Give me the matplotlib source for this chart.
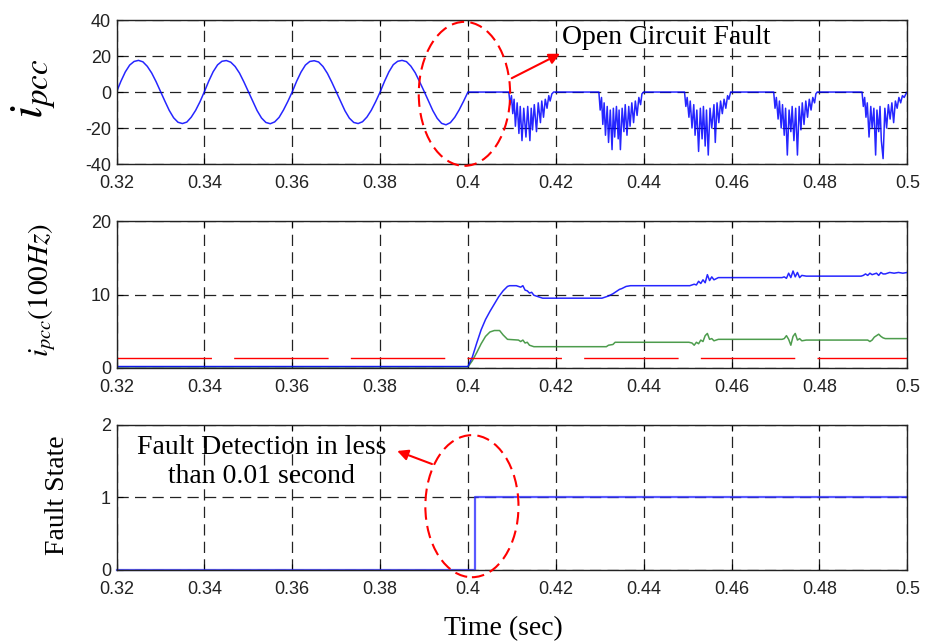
import numpy as np
import matplotlib
matplotlib.use('Agg')
from matplotlib import pyplot as plt
from matplotlib.patches import Ellipse
from matplotlib.ticker import FuncFormatter

plt.rcParams['font.family'] = ['Liberation Sans', 'DejaVu Sans']
plt.rcParams['mathtext.fontset'] = 'stix'
plt.rcParams['axes.unicode_minus'] = False

# --- i_pcc before the fault: one sample per ms, 0.320 .. 0.400 s
sine_t = np.round(np.arange(0.320, 0.4005, 0.001), 3)
sine_v = [0.0, 6.0, 11.2, 15.0, 17.0, 17.6, 16.8, 14.3, 10.6, 5.8,
          0.4, -5.0, -10.2, -14.3, -16.8, -17.5, -16.7, -14.0, -10.2, -5.4,
          0.2, 6.1, 11.3, 15.1, 17.1, 17.5, 16.6, 14.2, 10.5, 5.6,
          0.3, -5.1, -10.3, -14.4, -16.9, -17.6, -16.6, -14.1, -10.0, -5.2,
          0.1, 6.0, 11.1, 15.0, 17.0, 17.4, 16.7, 14.2, 10.4, 5.5,
          0.2, -5.2, -10.4, -14.5, -16.9, -17.5, -16.5, -13.9, -10.1, -5.3,
          0.0, 5.9, 11.2, 15.2, 17.1, 17.6, 16.9, 14.4, 10.7, 5.7,
          0.5, -4.9, -10.3, -14.6, -17.4, -18.2, -17.0, -14.0, -9.9, -5.1, 0.0]

# --- i_pcc after the open circuit fault (chopped negative bursts)
b1_t = [0.4093, 0.4096, 0.4099, 0.4102, 0.4105, 0.4108, 0.4112, 0.4116, 0.4119, 0.4123,
        0.4127, 0.4132, 0.4136, 0.4141, 0.4144, 0.4147, 0.4151, 0.4156, 0.4160, 0.4165,
        0.4168, 0.4172, 0.4176, 0.4180, 0.4184, 0.4187, 0.4191, 0.4195]
b1_v = [0, -7, -2, -12, -4, -19, -6, -23, -8, -27, -9, -25, -8, -27, -9, -21, -7, -22, -6, -17,
        -5, -14, -4, -9, -2, -5, -1, 0]
b2_t = [0.4298, 0.4301, 0.4304, 0.4307, 0.4310, 0.4313, 0.4317, 0.4320, 0.4324, 0.4328,
        0.4331, 0.4334, 0.4338, 0.4342, 0.4344, 0.4347, 0.4351, 0.4355, 0.4358, 0.4362,
        0.4366, 0.4369, 0.4373, 0.4377, 0.4381, 0.4385, 0.4389, 0.4393, 0.4396, 0.4400]
b2_v = [0, -10, -3, -18, -6, -24, -8, -28, -10, -32, -9, -25, -8, -26, -10, -32, -9, -22, -7, -24,
        -8, -19, -6, -17, -5, -13, -3, -7, -1, 0]
b3_t = [0.4493, 0.4496, 0.4499, 0.4503, 0.4506, 0.4510, 0.4514, 0.4517, 0.4521, 0.4525,
        0.4529, 0.4533, 0.4536, 0.4540, 0.4543, 0.4547, 0.4551, 0.4555, 0.4560, 0.4563,
        0.4567, 0.4571, 0.4575, 0.4579, 0.4583, 0.4587, 0.4591, 0.4594, 0.4598]
b3_v = [0, -8, -3, -14, -5, -20, -7, -24, -10, -33, -9, -26, -8, -30, -10, -35, -9, -20, -7, -28,
        -6, -17, -5, -12, -4, -9, -2, -4, 0]
b4_t = [0.4696, 0.4699, 0.4702, 0.4706, 0.4709, 0.4713, 0.4716, 0.4720, 0.4723, 0.4727,
        0.4731, 0.4735, 0.4738, 0.4742, 0.4746, 0.4750, 0.4754, 0.4758, 0.4761, 0.4765,
        0.4769, 0.4773, 0.4777, 0.4781, 0.4785, 0.4789, 0.4792, 0.4795]
b4_v = [0, -9, -3, -15, -5, -20, -7, -24, -9, -35, -10, -22, -8, -27, -9, -35, -8, -21, -6, -18,
        -5, -14, -4, -10, -3, -6, -1, 0]
b5_t = [0.4897, 0.4900, 0.4903, 0.4906, 0.4909, 0.4913, 0.4917, 0.4920, 0.4924, 0.4928,
        0.4931, 0.4935, 0.4938, 0.4941, 0.4945, 0.4949, 0.4953, 0.4957, 0.4961, 0.4965,
        0.4969, 0.4973, 0.4977, 0.4981, 0.4985, 0.4989, 0.4993, 0.4997, 0.5000]
b5_v = [0, -8, -3, -14, -6, -25, -8, -20, -9, -35, -10, -22, -8, -27, -37, -9, -20, -7, -15, -6,
        -17, -5, -9, -3, -6, -2, -3, -1, 0]

# --- 100 Hz component of i_pcc
blue_t = [0.320, 0.400, 0.401, 0.402, 0.403, 0.404, 0.405, 0.406, 0.407, 0.408,
          0.409, 0.4095, 0.411, 0.412, 0.4125, 0.413, 0.4135, 0.414, 0.4145, 0.415,
          0.416, 0.417, 0.418, 0.4305, 0.432, 0.433, 0.434, 0.4345, 0.435, 0.436,
          0.437, 0.4505, 0.4515, 0.452, 0.4525, 0.453, 0.4535, 0.454, 0.4545, 0.455,
          0.4555, 0.456, 0.457, 0.4715, 0.472, 0.4725, 0.473, 0.4735, 0.474, 0.4745,
          0.475, 0.4755, 0.476, 0.477, 0.4775, 0.4895, 0.490, 0.4905, 0.491, 0.4915,
          0.492, 0.4925, 0.493, 0.4935, 0.494, 0.4945, 0.495, 0.496, 0.497, 0.498,
          0.499, 0.500]
blue_v = [0.2, 0.2, 1.5, 3.4, 5.2, 6.6, 7.7, 8.7, 9.7, 10.5,
          11.1, 11.2, 11.2, 11.0, 11.2, 10.6, 10.5, 10.2, 10.3, 9.9,
          9.7, 9.5, 9.5, 9.5, 9.8, 10.1, 10.5, 10.7, 10.8, 11.1,
          11.2, 11.2, 11.4, 11.3, 11.8, 11.5, 12.0, 11.6, 12.7, 11.9,
          12.4, 12.0, 12.3, 12.3, 12.4, 12.2, 12.9, 12.3, 13.2, 12.4,
          13.0, 12.3, 12.6, 12.5, 12.5, 12.5, 12.6, 12.8, 12.6, 12.9,
          12.7, 12.8, 12.9, 12.6, 13.0, 12.8, 12.8, 13.0, 12.9, 13.0,
          12.9, 13.0]
green_t = [0.320, 0.400, 0.401, 0.402, 0.403, 0.404, 0.405, 0.406, 0.4072, 0.408,
           0.409, 0.4115, 0.412, 0.4125, 0.413, 0.4135, 0.414, 0.415, 0.4315, 0.432,
           0.433, 0.4335, 0.4503, 0.451, 0.4515, 0.452, 0.4525, 0.453, 0.4535, 0.454,
           0.4545, 0.455, 0.4555, 0.456, 0.457, 0.4715, 0.472, 0.4725, 0.473, 0.4735,
           0.474, 0.4745, 0.475, 0.4755, 0.476, 0.477, 0.491, 0.4915, 0.492, 0.4925,
           0.493, 0.4935, 0.494, 0.4945, 0.495, 0.500]
green_v = [0.15, 0.15, 1.0, 2.1, 3.3, 4.3, 4.9, 5.1, 5.1, 4.5,
           3.9, 3.8, 3.6, 3.8, 3.4, 3.5, 3.1, 2.9, 2.9, 3.1,
           3.2, 3.5, 3.5, 3.4, 3.1, 3.5, 3.3, 3.8, 3.6, 4.4,
           4.7, 3.9, 4.0, 3.7, 3.9, 3.9, 4.0, 4.4, 3.9, 3.1,
           4.3, 4.7, 3.8, 4.0, 3.7, 3.8, 3.8, 3.6, 3.8, 4.2,
           4.4, 4.6, 4.3, 4.1, 4.0, 4.0]
threshold = 1.3

# --- fault flag
fault_t = [0.32, 0.4016, 0.5]
fault_state = [0, 1, 1]

x_ticks = [0.32, 0.34, 0.36, 0.38, 0.40, 0.42, 0.44, 0.46, 0.48, 0.50]

serif = ['Liberation Serif', 'DejaVu Serif']
grid_ls = (0, (9, 5))

fig = plt.figure(figsize=(9.27, 6.41), dpi=100)
ax1 = fig.add_axes([0.1257, 0.7441, 0.853, 0.2246])
ax2 = fig.add_axes([0.1257, 0.4259, 0.853, 0.2293])
ax3 = fig.add_axes([0.1257, 0.1108, 0.853, 0.2262])

for ax in (ax1, ax2, ax3):
    ax.set_xlim(0.32, 0.5)
    ax.set_xticks(x_ticks)
    ax.xaxis.set_major_formatter(FuncFormatter(lambda v, p: '%g' % round(v, 2)))
    ax.grid(True, color='#222222', linestyle=grid_ls, linewidth=0.9)
    ax.tick_params(direction='in', length=4, top=True, right=True,
                   labelsize=13, labelcolor='#222222')
    ax.tick_params(axis='x', pad=8)
    ax.tick_params(axis='y', pad=4)
    for s in ax.spines.values():
        s.set_linewidth(1.0)
        s.set_color('#222222')

# top panel
top_t = np.concatenate([sine_t, b1_t, b2_t, b3_t, b4_t, b5_t])
top_v = np.concatenate([sine_v, b1_v, b2_v, b3_v, b4_v, b5_v])
ax1.plot(top_t, top_v, color='#0000ff', lw=1.1, alpha=0.85)
ax1.set_ylim(-40, 40)
ax1.set_yticks([-40, -20, 0, 20, 40])
ax1.add_patch(Ellipse((0.3992, -1), 0.0208, 80, fill=False, edgecolor='red',
                      linestyle=(0, (6, 3)), lw=1.5, clip_on=False, zorder=5))
ax1.annotate('', xy=(0.4215, 22), xytext=(0.4094, 7),
             arrowprops=dict(arrowstyle='-|>', color='red', lw=1.5, mutation_scale=16),
             zorder=6)
ax1.text(0.4215, 30.5, 'Open Circuit Fault', family=serif, fontsize=20,
         ha='left', va='center')

# middle panel
ax2.plot(green_t, green_v, color='#2e8b2e', lw=1.1, alpha=0.85)
ax2.plot(blue_t, blue_v, color='#0000ff', lw=1.1, alpha=0.85)
ax2.plot([0.32, 0.5], [threshold, threshold], color='red', lw=1.0,
         linestyle=(0, (68, 16)))
ax2.set_ylim(0, 20)
ax2.set_yticks([0, 10, 20])

# bottom panel
ax3.plot(fault_t, fault_state, color='#3030ff', lw=1.6, alpha=0.8,
         drawstyle='steps-post', clip_on=False)
ax3.set_ylim(0, 2)
ax3.set_yticks([0, 1, 2])
ax3.add_patch(Ellipse((0.4009, 0.88), 0.0212, 1.96, fill=False, edgecolor='red',
                      linestyle=(0, (6, 3)), lw=1.5, clip_on=False, zorder=5))
ax3.annotate('', xy=(0.3833, 1.655), xytext=(0.3924, 1.448),
             arrowprops=dict(arrowstyle='-|>', color='red', lw=1.5, mutation_scale=16),
             zorder=6)
ax3.text(0.3531, 1.49, 'Fault Detection in less\nthan 0.01 second', family=serif,
         fontsize=20, ha='center', va='center', linespacing=1.25)

# axis labels
fig.text(0.036, 0.862, r'$i_{pcc}$', fontsize=34, rotation=90, ha='center', va='center')
fig.text(0.046, 0.548, r'$i_{pcc}(100Hz)$', fontsize=21, rotation=90, ha='center', va='center')
fig.text(0.062, 0.228, 'Fault State', family=serif, fontsize=20, rotation=90,
         ha='center', va='center')
fig.text(0.543, 0.02, 'Time (sec)', family=serif, fontsize=20, ha='center', va='center')

fig.savefig('out.png', dpi=100)
